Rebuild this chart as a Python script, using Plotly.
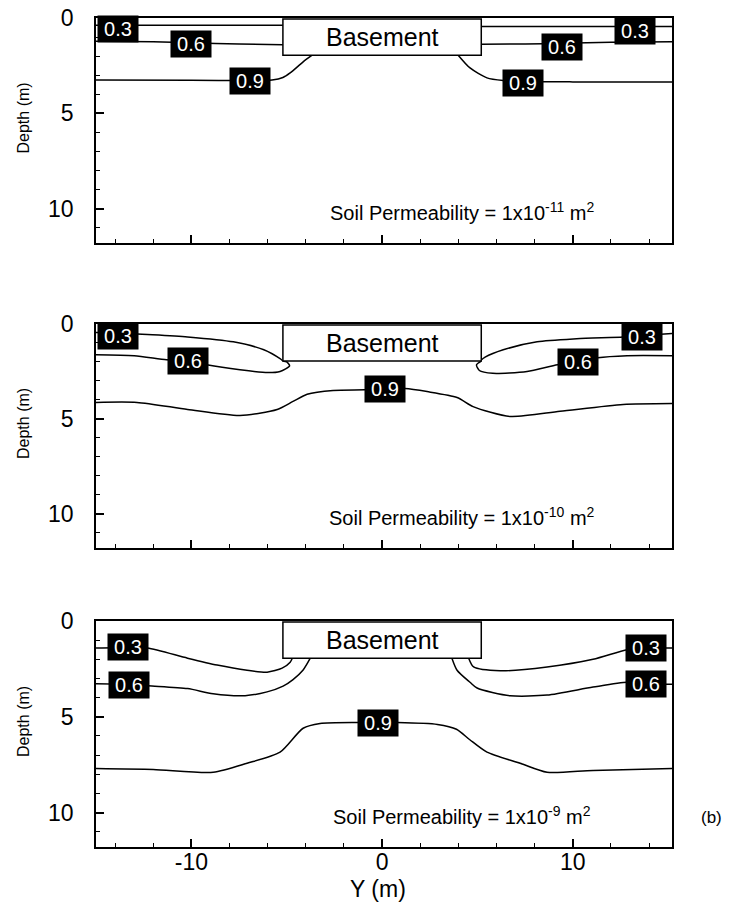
import plotly.graph_objects as go

W, H = 736, 912
FONT = "Liberation Sans, Arial, Helvetica, sans-serif"

# ---------------- data (horizontal position Y in m, depth in m) ----------------
x_ticks = [-10, 0, 10]
x_tick_labels = ["-10", "0", "10"]
x_minor = [-14, -12, -8, -6, -4, -2, 2, 4, 6, 8, 12, 14]
depth_ticks = [0, 5, 10]
depth_tick_labels = ["0", "5", "10"]

basement_y = [-5.2, 5.2]
basement_depth = [0.05, 1.95]

# Panel 1: permeability 1e-11
k11_c03_left_y = [-15.0, -10.0, -5.2]
k11_c03_left_d = [0.38, 0.38, 0.38]
k11_c03_right_y = [5.2, 10.0, 15.2]
k11_c03_right_d = [0.45, 0.45, 0.45]
k11_c06_left_y = [-15.0, -12.0, -10.0, -7.5, -5.2]
k11_c06_left_d = [1.22, 1.25, 1.30, 1.36, 1.40]
k11_c06_right_y = [5.2, 7.5, 9.4, 12.0, 15.2]
k11_c06_right_d = [1.38, 1.36, 1.33, 1.27, 1.24]
k11_c09_left_y = [-15.0, -10.0, -6.9, -5.77, -5.2, -4.82, -4.14, -3.67]
k11_c09_left_d = [3.25, 3.27, 3.28, 3.25, 3.12, 2.88, 2.30, 1.95]
k11_c09_right_y = [3.99, 4.61, 5.5, 6.35, 7.4, 10.0, 15.2]
k11_c09_right_d = [1.95, 2.62, 3.14, 3.28, 3.33, 3.35, 3.35]
k11_label_text = ["0.3", "0.3", "0.6", "0.6", "0.9", "0.9"]
k11_label_y = [-13.85, 13.27, -10.0, 9.44, -6.9, 7.4]
k11_label_d = [0.58, 0.68, 1.34, 1.52, 3.30, 3.42]

# Panel 2: permeability 1e-10
k10_c03_left_y = [-15.0, -13.84, -12.3, -10.2, -7.8, -6.2, -5.35, -5.2]
k10_c03_left_d = [0.45, 0.47, 0.55, 0.68, 0.94, 1.36, 1.83, 1.95]
k10_c03_right_y = [5.14, 5.4, 6.35, 8.13, 10.2, 12.64, 13.63, 15.2]
k10_c03_right_d = [1.95, 1.75, 1.36, 0.94, 0.78, 0.68, 0.60, 0.50]
k10_c06_left_y = [-15.0, -13.0, -11.3, -10.2, -9.2, -7.45, -6.0, -5.35, -4.85, -5.0, -5.2]
k10_c06_left_d = [1.62, 1.67, 1.88, 1.94, 2.15, 2.41, 2.56, 2.50, 2.20, 2.00, 1.95]
k10_c06_right_y = [5.2, 4.95, 5.1, 5.8, 7.6, 9.2, 10.3, 11.3, 12.85, 15.2]
k10_c06_right_d = [1.95, 2.15, 2.45, 2.60, 2.50, 2.15, 2.00, 1.78, 1.67, 1.67]
k10_c09_y = [-15.0, -12.85, -10.2, -7.45, -5.5, -4.67, -3.93, -2.57, -0.9, 0.16,
             1.2, 2.36, 3.93, 4.77, 6.71, 9.33, 12.64, 15.2]
k10_c09_d = [4.13, 4.13, 4.50, 4.82, 4.50, 4.08, 3.70, 3.50, 3.47, 3.42,
             3.40, 3.56, 3.87, 4.35, 4.87, 4.60, 4.24, 4.19]
k10_label_text = ["0.3", "0.3", "0.6", "0.6", "0.9"]
k10_label_y = [-13.84, 13.63, -10.2, 10.28, 0.16]
k10_label_d = [0.63, 0.68, 1.94, 2.00, 3.40]

# Panel 3: permeability 1e-9
k9_c03_left_y = [-15.0, -13.3, -12.3, -10.2, -8.65, -7.08, -6.03, -5.24, -4.82, -4.72]
k9_c03_left_d = [1.41, 1.38, 1.41, 1.94, 2.30, 2.57, 2.67, 2.46, 2.15, 1.97]
k9_c03_right_y = [4.55, 4.8, 6.19, 8.65, 11.06, 12.85, 13.84, 15.2]
k9_c03_right_d = [1.97, 2.40, 2.60, 2.40, 2.00, 1.50, 1.41, 1.41]
k9_c06_left_y = [-15.0, -13.27, -12.27, -10.2, -8.86, -7.18, -6.03, -5.19, -4.67, -4.14, -3.78]
k9_c06_left_d = [3.27, 3.30, 3.38, 3.53, 3.80, 3.90, 3.70, 3.40, 3.06, 2.56, 1.97]
k9_c06_right_y = [3.67, 3.93, 4.61, 4.98, 6.71, 8.65, 11.06, 12.85, 13.84, 15.2]
k9_c06_right_d = [1.97, 2.57, 3.20, 3.50, 3.90, 3.87, 3.45, 3.20, 3.30, 3.30]
k9_c09_y = [-15.0, -12.0, -8.86, -7.08, -5.35, -4.14, -3.25, -1.26, -0.2, 0.8,
            2.9, 3.9, 4.6, 5.5, 7.24, 8.65, 11.06, 15.2]
k9_c09_d = [7.70, 7.75, 7.90, 7.43, 6.85, 5.60, 5.35, 5.30, 5.30, 5.30,
            5.40, 5.65, 6.20, 6.85, 7.43, 7.90, 7.80, 7.70]
k9_label_text = ["0.3", "0.3", "0.6", "0.6", "0.9"]
k9_label_y = [-13.3, 13.84, -13.27, 13.84, -0.2]
k9_label_d = [1.36, 1.41, 3.35, 3.30, 5.33]

perm_exponents = ["-11", "-10", "-9"]

# ---------------- layout geometry (pixels) ----------------
X_L, X_R = 96, 672
panel_px = [(18, 243), (324, 548), (621, 847)]
x_range = [-15, 15.2]
d_range = [11.8, 0]

fig = go.Figure()

panels = [
    dict(lines=[(k11_c03_left_y, k11_c03_left_d), (k11_c03_right_y, k11_c03_right_d),
                (k11_c06_left_y, k11_c06_left_d), (k11_c06_right_y, k11_c06_right_d),
                (k11_c09_left_y, k11_c09_left_d), (k11_c09_right_y, k11_c09_right_d)],
         labels=(k11_label_text, k11_label_y, k11_label_d)),
    dict(lines=[(k10_c03_left_y, k10_c03_left_d), (k10_c03_right_y, k10_c03_right_d),
                (k10_c06_left_y, k10_c06_left_d), (k10_c06_right_y, k10_c06_right_d),
                (k10_c09_y, k10_c09_d)],
         labels=(k10_label_text, k10_label_y, k10_label_d)),
    dict(lines=[(k9_c03_left_y, k9_c03_left_d), (k9_c03_right_y, k9_c03_right_d),
                (k9_c06_left_y, k9_c06_left_d), (k9_c06_right_y, k9_c06_right_d),
                (k9_c09_y, k9_c09_d)],
         labels=(k9_label_text, k9_label_y, k9_label_d)),
]

annotations = []
shapes = []
layout_axes = {}
PAD = "\u2009"

for i, p in enumerate(panels):
    n = "" if i == 0 else str(i + 1)
    xa, ya = "x" + n, "y" + n
    for (xs, ds) in p["lines"]:
        fig.add_trace(go.Scatter(x=xs, y=ds, mode="lines", xaxis=xa, yaxis=ya,
                                 line=dict(color="black", width=1.5, shape="spline", smoothing=0.7),
                                 showlegend=False, hoverinfo="skip"))
    # basement box
    shapes.append(dict(type="rect", xref=xa, yref=ya, x0=basement_y[0], x1=basement_y[1],
                       y0=basement_depth[0], y1=basement_depth[1], fillcolor="white",
                       line=dict(color="black", width=1.5), layer="above"))
    annotations.append(dict(x=0, y=(basement_depth[0] + basement_depth[1]) / 2, xref=xa, yref=ya,
                            text="Basement", showarrow=False, xanchor="center", yanchor="middle",
                            font=dict(family=FONT, size=25, color="black")))
    txt, lx, ld = p["labels"]
    for t, x, d in zip(txt, lx, ld):
        annotations.append(dict(x=x, y=d, xref=xa, yref=ya, text=PAD + t + PAD, showarrow=False,
                                xanchor="center", yanchor="middle",
                                bgcolor="black", borderpad=2,
                                font=dict(family=FONT, size=20, color="white")))
    annotations.append(dict(x=4.2, y=10.15, xref=xa, yref=ya, showarrow=False,
                            xanchor="center", yanchor="middle",
                            text="Soil Permeability = 1x10<sup>%s</sup> m<sup>2</sup>" % perm_exponents[i],
                            font=dict(family=FONT, size=20, color="black")))
    top, bot = panel_px[i]
    annotations.append(dict(x=23 / W, y=1 - ((top + bot) / 2 - 12) / H, xref="paper", yref="paper",
                            xanchor="center", yanchor="middle",
                            text="Depth (m)", textangle=-90, showarrow=False,
                            font=dict(family=FONT, size=16, color="black")))
    layout_axes["xaxis" + n] = dict(
        domain=[X_L / W, X_R / W], anchor=ya, range=x_range, showgrid=False, zeroline=False,
        showline=True, mirror=True, linecolor="black", linewidth=1.5,
        tickvals=x_ticks, ticktext=x_tick_labels, ticks="inside", ticklen=8, tickwidth=1.5,
        tickcolor="black", showticklabels=(i == 2), automargin=False, ticklabelstandoff=-6,
        tickfont=dict(family=FONT, size=23, color="black"),
        minor=dict(tickvals=x_minor, ticks="inside", ticklen=4, tickwidth=1, tickcolor="black",
                   showgrid=False))
    layout_axes["yaxis" + n] = dict(
        domain=[1 - bot / H, 1 - top / H], anchor=xa, range=d_range, showgrid=False, zeroline=False,
        showline=True, mirror=True, linecolor="black", linewidth=1.5,
        tickvals=depth_ticks, ticktext=depth_tick_labels, ticks="inside", ticklen=8, tickwidth=1.5,
        tickcolor="black", automargin=False, ticklabelstandoff=16,
        tickfont=dict(family=FONT, size=23, color="black"),
        minor=dict(dtick=1, tick0=0, ticks="inside", ticklen=4, tickwidth=1, tickcolor="black",
                   showgrid=False))

annotations.append(dict(x=378 / W, y=1 - 889 / H, xref="paper", yref="paper", text="Y (m)",
                        xanchor="center", yanchor="middle",
                        showarrow=False, font=dict(family=FONT, size=23, color="black")))
annotations.append(dict(x=711 / W, y=1 - 817 / H, xref="paper", yref="paper", text="(b)",
                        xanchor="center", yanchor="middle",
                        showarrow=False, font=dict(family=FONT, size=17, color="black")))

fig.update_layout(width=W, height=H, margin=dict(l=0, r=0, t=0, b=0),
                  paper_bgcolor="white", plot_bgcolor="white", showlegend=False,
                  annotations=annotations, shapes=shapes, **layout_axes)

fig.write_html("out.html")
